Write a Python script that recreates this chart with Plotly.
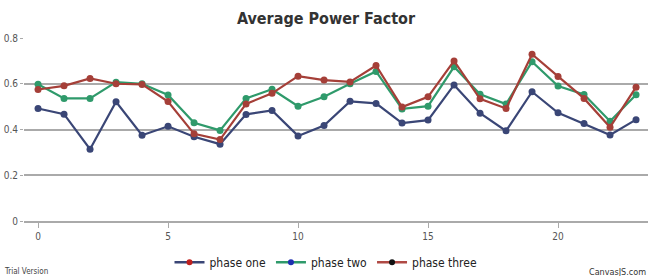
import plotly.graph_objects as go

hours = list(range(24))
phase_one = [0.575, 0.591, 0.623, 0.600, 0.597, 0.522, 0.381, 0.356, 0.512, 0.558, 0.633, 0.616,
             0.608, 0.680, 0.498, 0.543, 0.700, 0.534, 0.492, 0.729, 0.632, 0.536, 0.410, 0.585]
phase_two = [0.598, 0.536, 0.536, 0.607, 0.600, 0.551, 0.429, 0.396, 0.536, 0.576, 0.502, 0.543,
             0.600, 0.654, 0.490, 0.502, 0.674, 0.554, 0.511, 0.696, 0.590, 0.553, 0.436, 0.552]
phase_three = [0.492, 0.467, 0.314, 0.521, 0.375, 0.414, 0.368, 0.336, 0.466, 0.483, 0.372, 0.417,
               0.523, 0.514, 0.428, 0.441, 0.595, 0.471, 0.394, 0.565, 0.473, 0.426, 0.376, 0.443]
y_ticks = [0, 0.2, 0.4, 0.6, 0.8]
x_ticks = [0, 5, 10, 15, 20]

RED = "#a53f38"
GREEN = "#2f9a6b"
NAVY = "#3a4676"

FONT = "DejaVu Sans Condensed, DejaVu Sans, sans-serif"

fig = go.Figure()
for vals, col in [(phase_three, NAVY), (phase_two, GREEN), (phase_one, RED)]:
    fig.add_trace(go.Scatter(x=hours, y=vals, mode="lines+markers", showlegend=False,
                             line=dict(color=col, width=2.2),
                             marker=dict(color=col, size=7)))

# legend entries (CanvasJS-style mixed line / marker colours)
for name, lc, mc in [("phase one", NAVY, "#c0201e"), ("phase two", GREEN, "#1f30b0"),
                     ("phase three", "#b04a45", "#111111")]:
    fig.add_trace(go.Scatter(x=[None], y=[None], mode="lines+markers", name=name,
                             line=dict(color=lc, width=2.5), marker=dict(color=mc, size=6)))

fig.update_layout(
    width=652, height=276,
    margin=dict(l=24, r=4, t=38, b=55, autoexpand=False),
    paper_bgcolor="white", plot_bgcolor="white",
    title=dict(text="<b>Average Power Factor</b>", x=0.5, xanchor="center",
               xref="container", yref="container", y=0.935, yanchor="middle",
               font=dict(family=FONT, size=16, color="#333333")),
    showlegend=True,
    legend=dict(orientation="h", x=0.5, xanchor="center", xref="container",
                yref="container", y=0.05, yanchor="middle",
                font=dict(family=FONT, size=12, color="#222222"),
                itemwidth=30, tracegroupgap=0),
    xaxis=dict(range=[-0.54, 23.46], tickvals=x_ticks, showgrid=False, zeroline=False,
               automargin=False,
               showline=True, linecolor="#aaaaaa", linewidth=1.5,
               ticks="outside", ticklen=5, tickcolor="#aaaaaa",
               tickfont=dict(family=FONT, size=10, color="#555555")),
    yaxis=dict(range=[0, 0.8], tickvals=y_ticks, ticktext=["0", "0.2", "0.4", "0.6", "0.8"],
               automargin=False,
               showgrid=True, gridcolor="#aaaaaa", gridwidth=1.5, zeroline=False,
               showline=False, ticks="outside", ticklen=3, tickcolor="#aaaaaa",
               tickfont=dict(family=FONT, size=10, color="#555555")),
)

fig.add_annotation(text="Trial Version", xref="paper", yref="paper", x=-0.035, y=-0.24,
                   xanchor="left", yanchor="top", showarrow=False,
                   font=dict(family=FONT, size=8, color="#444444"))
fig.add_annotation(text="CanvasJS.com", xref="paper", yref="paper", x=1.0, y=-0.24,
                   xanchor="right", yanchor="top", showarrow=False,
                   font=dict(family=FONT, size=9, color="#333333"))

fig.write_html("out.html", config={"displayModeBar": False},
               post_script="document.body.style.margin='0';")
